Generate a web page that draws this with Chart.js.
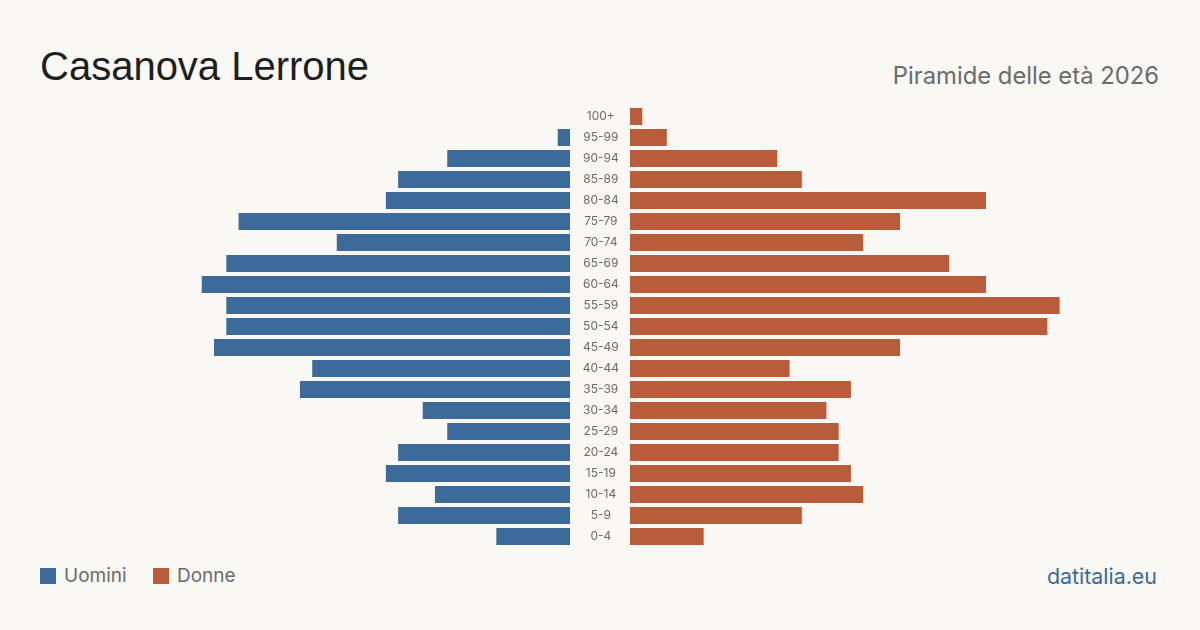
<!DOCTYPE html>
<html lang="it">
<head>
<meta charset="utf-8">
<title>Casanova Lerrone - Piramide delle età 2026</title>
<script src="https://cdn.jsdelivr.net/npm/chart.js"></script>
<style>
    html, body {
        margin: 0;
        padding: 0;
        width: 1200px;
        height: 630px;
        background: #f9f8f4;
        overflow: hidden;
        font-family: "Inter", "Liberation Sans", sans-serif;
    }
    #title {
        position: absolute;
        left: 40px;
        top: 40px;
        font-family: "Liberation Sans", Arial, sans-serif;
        font-size: 40px;
        color: #1e1e1e;
        line-height: 52px;
    }
    #subtitle {
        position: absolute;
        right: 41px;
        top: 61px;
        font-size: 23.8px;
        color: #6b6b6b;
        line-height: 30px;
    }
    #leftWrap { position: absolute; left: 79px; top: 106px; width: 491px; height: 441px; }
    #rightWrap { position: absolute; left: 570px; top: 106px; width: 551px; height: 441px; }
    .legend {
        position: absolute;
        top: 565px;
        font-size: 19px;
        color: #6b6b6b;
        line-height: 22px;
    }
    .legend span.box {
        display: inline-block;
        width: 16px;
        height: 16px;
        vertical-align: -2px;
        margin-right: 8px;
    }
    #credit {
        position: absolute;
        right: 43px;
        top: 563px;
        font-size: 21.4px;
        color: #3b6a9b;
        line-height: 26px;
    }
</style>
</head>
<body>
<div id="title">Casanova Lerrone</div>
<div id="subtitle">Piramide delle età 2026</div>
<div id="leftWrap"><canvas id="menChart" width="491" height="441"></canvas></div>
<div id="rightWrap"><canvas id="womenChart" width="551" height="441"></canvas></div>
<div class="legend" style="left:40px"><span class="box" style="background:#3b6a9b"></span>Uomini</div>
<div class="legend" style="left:153px"><span class="box" style="background:#b95c3c"></span>Donne</div>
<div id="credit">datitalia.eu</div>

<script>
// age classes, top to bottom
const ageGroups = ['100+', '95-99', '90-94', '85-89', '80-84', '75-79', '70-74', '65-69', '60-64', '55-59',
    '50-54', '45-49', '40-44', '35-39', '30-34', '25-29', '20-24', '15-19', '10-14', '5-9', '0-4'];

const men = [0, 1, 10, 14, 15, 27, 19, 28, 30, 28, 28, 29, 21, 22, 12, 10, 14, 15, 11, 14, 6];
const women = [1, 3, 12, 14, 29, 22, 19, 26, 29, 35, 34, 22, 13, 18, 16, 17, 17, 18, 19, 14, 6];

const axisMax = 40;
const menColor = '#3b6a9b';
const womenColor = '#b95c3c';

function baseOptions(reverse) {
    return {
        indexAxis: 'y',
        responsive: false,
        animation: false,
        layout: { padding: 0, autoPadding: false },
        plugins: {
            legend: { display: false },
            tooltip: { enabled: false }
        },
        scales: {
            x: {
                display: false,
                min: 0,
                max: axisMax,
                reverse: reverse
            },
            y: {
                display: false
            }
        }
    };
}

// Uomini, bars grow to the left
new Chart(document.getElementById('menChart'), {
    type: 'bar',
    data: {
        labels: ageGroups,
        datasets: [{
            label: 'Uomini',
            data: men,
            backgroundColor: menColor,
            barPercentage: 1,
            categoryPercentage: 17 / 21
        }]
    },
    options: baseOptions(true)
});

// Donne, with the age labels in the middle column
const womenOptions = baseOptions(false);
womenOptions.scales.y = {
    display: true,
    grid: { display: false, drawTicks: false },
    border: { display: false },
    afterFit: function(scale) {
        // fixed 60px label column, no extra room above/below
        scale.width = 60;
        scale.paddingTop = 0;
        scale.paddingBottom = 0;
    },
    ticks: {
        crossAlign: 'center',
        padding: 11,
        color: '#6b6b6b',
        font: { family: 'Inter', size: 12 }
    }
};

new Chart(document.getElementById('womenChart'), {
    type: 'bar',
    data: {
        labels: ageGroups,
        datasets: [{
            label: 'Donne',
            data: women,
            backgroundColor: womenColor,
            barPercentage: 1,
            categoryPercentage: 17 / 21
        }]
    },
    options: womenOptions
});
</script>
</body>
</html>
